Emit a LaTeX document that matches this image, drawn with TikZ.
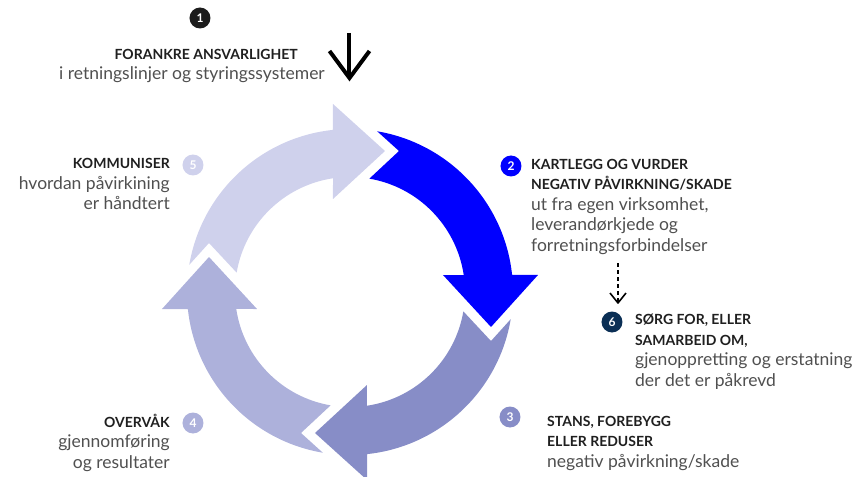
\documentclass[tikz,border=0pt]{standalone}
\usepackage{fontspec}
\setmainfont{Lato}
\definecolor{cone}{HTML}{1C1C1C}
\definecolor{ctwo}{HTML}{0000FF}
\definecolor{cthree}{HTML}{878DC7}
\definecolor{cfour}{HTML}{ADB1DB}
\definecolor{cfive}{HTML}{CFD1EC}
\definecolor{csix}{HTML}{0B2F55}
\definecolor{txtgray}{HTML}{505050}
\tikzset{
  num/.style={circle, fill=#1, text=white, font=\fontsize{12}{12}\selectfont\bfseries, minimum size=21pt, inner sep=0pt},
  lbl/.style={inner sep=0pt, text=txtgray, font=\fontsize{17.5}{20.5}\selectfont},
  bigarrow/.style={line width=4pt, draw=black, line cap=butt, line join=miter},
  dasharrow/.style={line width=1.6pt, draw=black, dash pattern=on 4pt off 3pt},
}
\newcommand{\hd}[1]{{\fontsize{14}{20.5}\selectfont\bfseries\color{black!88}#1}}
\begin{document}
\begin{tikzpicture}[x=1pt, y=1pt, line join=round]
  \useasboundingbox (-350,-185) rectangle (505,292);
  % ring of four arrows
  \foreach \ang/\col in {0/ctwo, -90/cthree, 180/cfour, 90/cfive}
    \fill[\col, rotate=\ang] (80.4:163) arc[start angle=80.4, end angle=6, radius=163]
      -- (188,17) -- (141,-35) -- (93,17) -- (8.5:115)
      arc[start angle=8.5, end angle=80.3, radius=115] -- (49,141) -- cycle;
  % step 1
  \node[num=cone] (n1) at (-150,274) {1};
  \node[lbl, anchor=base east, align=right] (t1) at (-25,212)
    {\hd{FORANKRE ANSVARLIGHET}\hspace*{27pt}\\ i retningslinjer og styringssystemer};
  \coordinate (d1s) at (-0.5,259);
  \coordinate (d1e) at (-0.5,214);
  \draw[bigarrow] (d1s) -- (d1e);
  \draw[bigarrow] ([shift={(-20,27)}]d1e) -- (d1e) -- ([shift={(20,27)}]d1e);
  % step 2
  \node[num=ctwo] (n2) at (161,126) {2};
  \node[lbl, anchor=base west, align=left] (t2) at (181,41)
    {\hd{KARTLEGG OG VURDER}\\ \hd{NEGATIV PÅVIRKNING/SKADE}\\ ut fra egen virksomhet,\\ leverandørkjede og\\ forretningsforbindelser};
  % step 6
  \node[num=csix] (n6) at (262,-30) {6};
  \node[lbl, anchor=base west, align=left] (t6) at (285,-94)
    {\hd{SØRG FOR, ELLER}\\ \hd{SAMARBEID OM,}\\ gjenoppretting og erstatning\\ der det er påkrevd};
  \coordinate (d6s) at (268,29);
  \coordinate (d6e) at (268,-11);
  \draw[dasharrow] (d6s) -- (d6e);
  \draw[line width=1.6pt] ([shift={(-8,10)}]d6e) -- (d6e) -- ([shift={(8,10)}]d6e);
  % step 3
  \node[num=cthree] (n3) at (160,-125) {3};
  \node[lbl, anchor=base west, align=left] (t3) at (197,-175)
    {\hd{STANS, FOREBYGG}\\ \hd{ELLER REDUSER}\\ negativ påvirkning/skade};
  % step 4
  \node[num=cfour] (n4) at (-157,-131) {4};
  \node[lbl, anchor=base east, align=right] (t4) at (-180,-176)
    {\hd{OVERVÅK}\\ gjennomføring\\ og resultater};
  % step 5
  \node[num=cfive] (n5) at (-157,127) {5};
  \node[lbl, anchor=base east, align=right] (t5) at (-180,82)
    {\hd{KOMMUNISER}\\ hvordan påvirkining\\ er håndtert};
\end{tikzpicture}
\end{document}
